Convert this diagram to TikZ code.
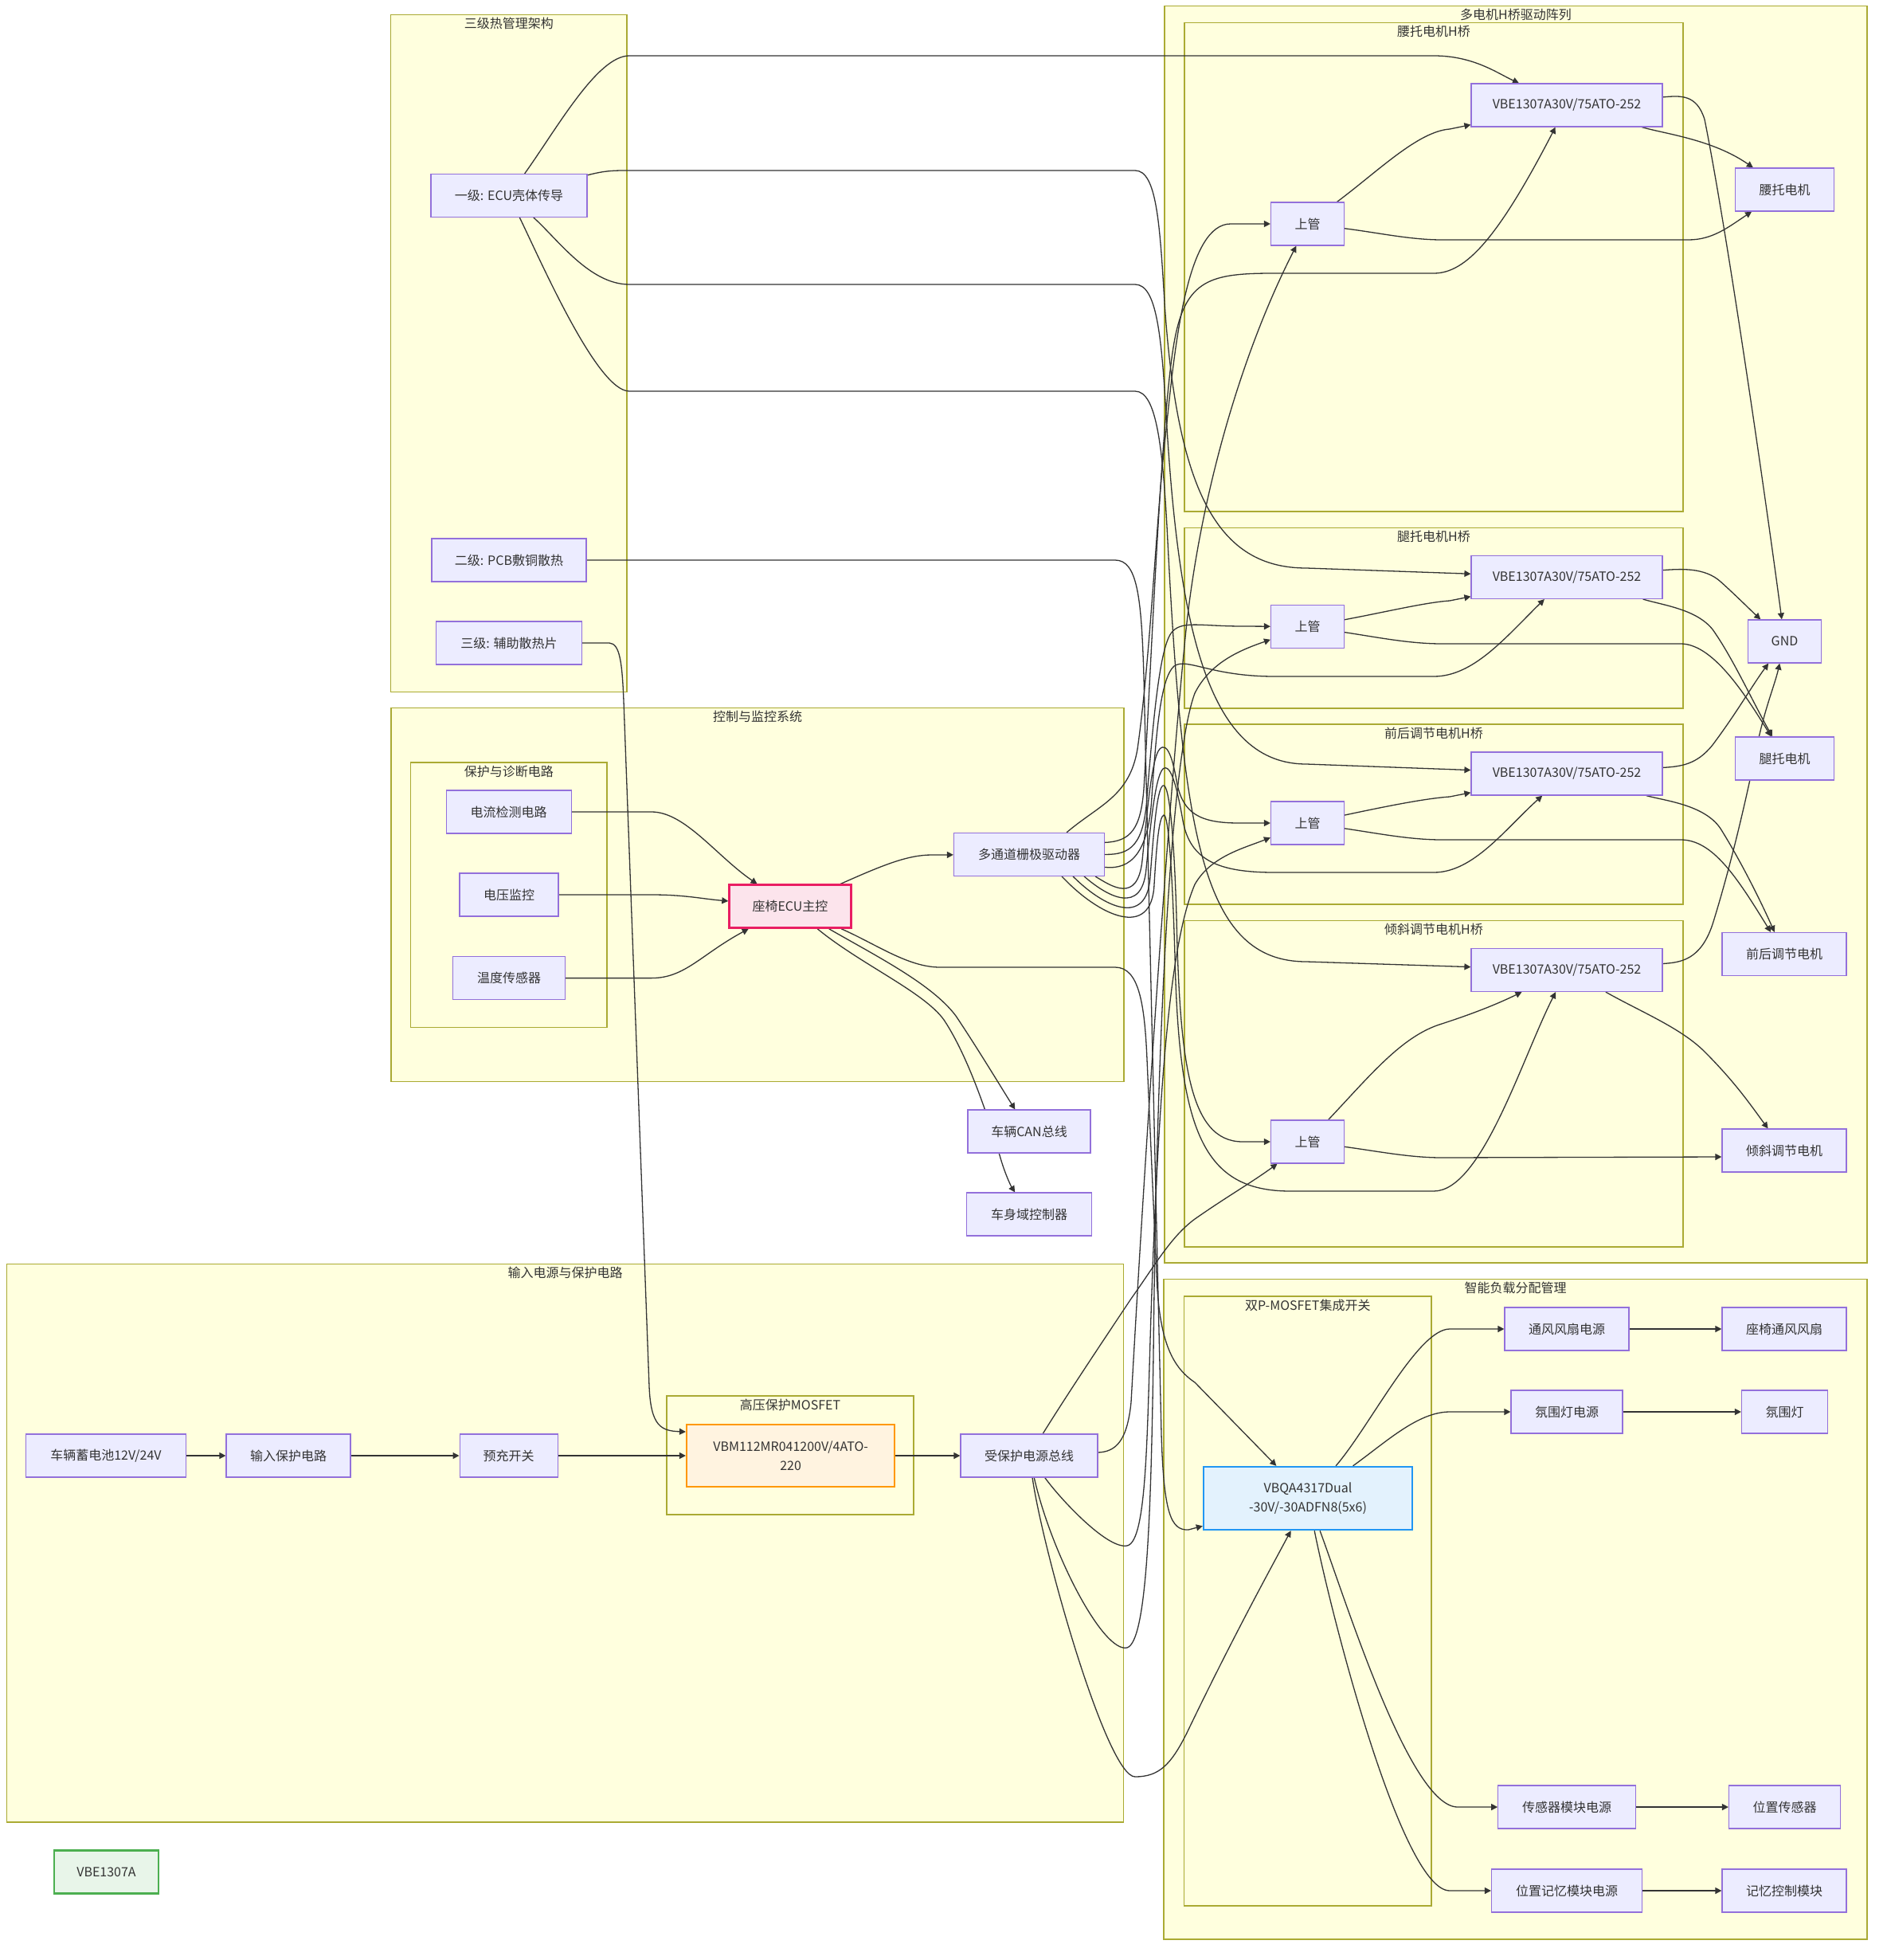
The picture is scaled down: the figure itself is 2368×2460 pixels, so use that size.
\documentclass[tikz,border=0pt]{standalone}
\usepackage{fontspec}
\setmainfont{Noto Sans CJK SC}
\usetikzlibrary{arrows.meta}

\definecolor{nodefill}{HTML}{ECECFF}
\definecolor{nodeline}{HTML}{9370DB}
\definecolor{grpfill}{HTML}{FFFFDE}
\definecolor{grpline}{HTML}{AAAA33}
\definecolor{ink}{HTML}{333333}
\definecolor{ecufill}{HTML}{FCE4EC}
\definecolor{eculine}{HTML}{E91E63}
\definecolor{hvfill}{HTML}{FFF3E0}
\definecolor{hvline}{HTML}{FF9800}
\definecolor{swfill}{HTML}{E3F2FD}
\definecolor{swline}{HTML}{2196F3}
\definecolor{keyfill}{HTML}{E8F5E9}
\definecolor{keyline}{HTML}{4CAF50}

\pgfdeclarelayer{groups}
\pgfdeclarelayer{wires}
\pgfsetlayers{groups,wires,main}

\begin{document}
\begin{tikzpicture}[x=0.5pt,y=-0.5pt]
        % Define the styles for blocks, groups and wires
        \tikzstyle{blk}=[rectangle, draw=nodeline, fill=nodefill, line width=0.6pt, minimum height=27pt, inner sep=0pt, text=ink, font=\fontsize{8}{12}\selectfont, align=center]
        \tikzstyle{ecublk}=[blk, draw=eculine, fill=ecufill, line width=1.2pt]
        \tikzstyle{hvblk}=[blk, draw=hvline, fill=hvfill, line width=1.2pt, minimum height=39.25pt]
        \tikzstyle{swblk}=[blk, draw=swline, fill=swfill, line width=1.2pt, minimum height=39.5pt]
        \tikzstyle{keyblk}=[blk, draw=keyline, fill=keyfill, line width=1.2pt]
        \tikzstyle{grp}=[draw=grpline, fill=grpfill, line width=0.6pt]
        \tikzstyle{grptitle}=[anchor=north, inner sep=0pt, text=ink, font=\fontsize{8}{10}\selectfont]
        \tikzstyle{link}=[draw=ink, line width=0.65pt, -{Triangle[length=4pt,width=4pt]}]

        \useasboundingbox (0,0) rectangle (2368,2460);

        % Define the groups
        \begin{pgfonlayer}{groups}
        \draw[grp] (490.5,18.5) rectangle (787,868.7);
        \draw[grp] (491,888.7) rectangle (1411,1357.5);
        \draw[grp] (515.7,957) rectangle (762,1289.5);
        \draw[grp] (1462,7.5) rectangle (2344,1585);
        \draw[grp] (1487,28.7) rectangle (2113,642);
        \draw[grp] (1487,662.5) rectangle (2113,889);
        \draw[grp] (1487,909) rectangle (2113,1135);
        \draw[grp] (1487,1155.6) rectangle (2113,1565);
        \draw[grp] (8.4,1586.7) rectangle (1410.6,2287);
        \draw[grp] (837,1752) rectangle (1147,1901);
        \draw[grp] (1461,1605.5) rectangle (2344,2434);
        \draw[grp] (1486.6,1627) rectangle (1797,2392);
        \end{pgfonlayer}

        \node[grptitle] (tthermal) at (638.75,22) {三级热管理架构};
        \node[grptitle] (tctrl) at (951,892) {控制与监控系统};
        \node[grptitle] (tdiag) at (638.85,960.5) {保护与诊断电路};
        \node[grptitle] (tbridge) at (1903,11) {多电机H桥驱动阵列};
        \node[grptitle] (tbridgeA) at (1800,32) {腰托电机H桥};
        \node[grptitle] (tbridgeB) at (1800,666) {腿托电机H桥};
        \node[grptitle] (tbridgeC) at (1800,912.5) {前后调节电机H桥};
        \node[grptitle] (tbridgeD) at (1800,1159) {倾斜调节电机H桥};
        \node[grptitle] (tinput) at (709.5,1590) {输入电源与保护电路};
        \node[grptitle] (thv) at (992,1755.5) {高压保护MOSFET};
        \node[grptitle] (tload) at (1902.5,1609) {智能负载分配管理};
        \node[grptitle] (tdual) at (1641.8,1630.5) {双P-MOSFET集成开关};

        % Define the nodes
        \node[blk, minimum width=98pt] (yiji) at (639,245.5) {一级: ECU壳体传导};
        \node[blk, minimum width=97pt] (erji) at (639,703) {二级: PCB敷铜散热};
        \node[blk, minimum width=91.5pt] (sanji) at (639,807) {三级: 辅助散热片};

        \node[blk, minimum width=78.5pt] (cur) at (638.6,1019) {电流检测电路};
        \node[blk, minimum width=62pt] (vol) at (639,1123) {电压监控};
        \node[blk, minimum width=70.5pt] (temp) at (639,1227.6) {温度传感器};
        \node[ecublk, minimum width=76.5pt] (ecu) at (992,1137.6) {座椅ECU主控};
        \node[blk, minimum width=94.5pt] (drv) at (1292,1072.4) {多通道栅极驱动器};
        \node[blk, minimum width=77pt] (can) at (1292,1420) {车辆CAN总线};
        \node[blk, minimum width=78.5pt] (bcm) at (1292,1524) {车身域控制器};

        \node[blk, minimum width=120pt] (vbeA) at (1967,132) {VBE1307A30V/75ATO-252};
        \node[blk, minimum width=120pt] (vbeB) at (1967,724.5) {VBE1307A30V/75ATO-252};
        \node[blk, minimum width=120pt] (vbeC) at (1967,971) {VBE1307A30V/75ATO-252};
        \node[blk, minimum width=120pt] (vbeD) at (1967,1217.5) {VBE1307A30V/75ATO-252};
        \node[blk, minimum width=46pt] (upA) at (1641.5,281) {上管};
        \node[blk, minimum width=46pt] (upB) at (1641.5,786.5) {上管};
        \node[blk, minimum width=46pt] (upC) at (1641.5,1033) {上管};
        \node[blk, minimum width=46pt] (upD) at (1641.5,1433) {上管};
        \node[blk, minimum width=62pt] (motA) at (2240.5,238) {腰托电机};
        \node[blk, minimum width=45.75pt] (gnd) at (2240.5,805) {GND};
        \node[blk, minimum width=62pt] (motB) at (2240.5,952) {腿托电机};
        \node[blk, minimum width=78pt] (motC) at (2240,1197.5) {前后调节电机};
        \node[blk, minimum width=78pt] (motD) at (2240,1444) {倾斜调节电机};

        \node[blk, minimum width=100.5pt] (bat) at (133,1827) {车辆蓄电池12V/24V};
        \node[blk, minimum width=78pt] (inprot) at (362,1827) {输入保护电路};
        \node[blk, minimum width=61.5pt] (prech) at (638.6,1827) {预充开关};
        \node[hvblk, minimum width=130.5pt] (vbm) at (992.6,1827) {VBM112MR041200V/4ATO-\\220};
        \node[blk, minimum width=86pt] (bus) at (1292,1827) {受保护电源总线};
        \node[keyblk, minimum width=65.5pt] (legend) at (133.5,2349.5) {VBE1307A};

        \node[swblk, minimum width=131pt] (vbqa) at (1642,1880.5) {VBQA4317Dual\\-30V/-30ADFN8(5x6)};
        \node[blk, minimum width=78pt] (fanpwr) at (1967,1668) {通风风扇电源};
        \node[blk, minimum width=78pt] (fan) at (2240,1668) {座椅通风风扇};
        \node[blk, minimum width=70pt] (ambpwr) at (1967,1772) {氛围灯电源};
        \node[blk, minimum width=54pt] (amb) at (2240.5,1772) {氛围灯};
        \node[blk, minimum width=86.25pt] (senpwr) at (1967,2268) {传感器模块电源};
        \node[blk, minimum width=70pt] (sen) at (2240.5,2268) {位置传感器};
        \node[blk, minimum width=94.5pt] (mempwr) at (1967,2373) {位置记忆模块电源};
        \node[blk, minimum width=78pt] (mem) at (2240,2373) {记忆控制模块};

        \begin{pgfonlayer}{wires}
        % Define the power input chain
        \draw[link] (bat) -- (inprot);
        \draw[link] (inprot) -- (prech);
        \draw[link] (prech) -- (vbm);
        \draw[link] (vbm) -- (bus);
        \draw[link] (sanji) -- (765,807) .. controls (778,808) and (781,830) .. (783,880) -- (815,1740) .. controls (817,1790) and (830,1796) .. ([yshift=15pt]vbm.west);

        % Define the thermal paths
        \draw[link] (yiji) .. controls (700,160) and (750,70) .. (790,70) -- (1800,70) .. controls (1850,70) and (1880,92) .. (vbeA);
        \draw[link] (yiji) .. controls (760,214) and (770,214) .. (790,214) -- (1425,214) .. controls (1452,214) and (1456,280) .. (1462,380) .. controls (1478,620) and (1530,713) .. (1640,713) -- (vbeB);
        \draw[link] (yiji) .. controls (700,300) and (740,357) .. (790,357) -- (1425,357) .. controls (1452,357) and (1458,420) .. (1464,520) .. controls (1480,800) and (1520,959) .. (1640,959) -- (vbeC);
        \draw[link] (yiji) .. controls (680,330) and (750,491) .. (790,491) -- (1425,491) .. controls (1452,491) and (1460,560) .. (1466,680) .. controls (1485,1050) and (1510,1207) .. (1640,1207) -- (vbeD);
        \draw[link] (erji) -- (1400,703) .. controls (1428,703) and (1433,750) .. (1436,850) -- (1458,1800) .. controls (1461,1900) and (1470,1921) .. (1492,1920) -- (vbqa);

        % Define the control paths
        \draw[link] (cur) -- (818,1019) .. controls (860,1019) and (900,1075) .. (ecu);
        \draw[link] (vol) -- (818,1123) .. controls (860,1123) and (880,1128) .. (ecu);
        \draw[link] (temp) -- (818,1227.6) .. controls (860,1227.6) and (880,1198) .. (ecu);
        \draw[link] (ecu) .. controls (1110,1085) and (1140,1073) .. (1170,1073) -- (drv);
        \draw[link] (ecu) .. controls (1100,1200) and (1170,1235) .. (1200,1275) .. controls (1230,1320) and (1260,1370) .. (can);
        \draw[link] (ecu) .. controls (1080,1210) and (1160,1245) .. (1185,1280) .. controls (1215,1325) and (1240,1400) .. (1255,1450) .. controls (1262,1475) and (1270,1490) .. (bcm);
        \draw[link] (ecu) .. controls (1100,1185) and (1140,1214) .. (1180,1214) -- (1400,1214) .. controls (1430,1214) and (1437,1260) .. (1440,1330) -- (1452,1600) .. controls (1455,1680) and (1470,1715) .. (1500,1735) -- (vbqa);

        % Define the gate driver paths
        \draw[link] ([xshift=-24pt]drv.north east) .. controls (1380,1010) and (1418,1000) .. (1428,940) .. controls (1445,820) and (1452,640) .. (1464,540) .. controls (1476,420) and (1492,281) .. (1545,281) -- (upA);
        \draw[link] ([yshift=7.5pt]drv.east) .. controls (1420,1056) and (1432,1040) .. (1436,990) .. controls (1446,820) and (1458,520) .. (1474,430) .. controls (1488,350) and (1520,343) .. (1600,343) -- (1800,343) .. controls (1840,343) and (1880,300) .. (vbeA);
        \draw[link] (drv.east) .. controls (1420,1073) and (1436,1060) .. (1440,1000) .. controls (1448,900) and (1456,815) .. (1470,795) .. controls (1482,778) and (1505,786) .. (1560,786) -- (upB);
        \draw[link] ([yshift=-8pt]drv.east) .. controls (1420,1092) and (1442,1070) .. (1446,1000) .. controls (1452,910) and (1458,850) .. (1474,836) .. controls (1490,825) and (1520,849) .. (1600,849) -- (1800,849) .. controls (1850,849) and (1890,800) .. (vbeB);
        \draw[link] ([xshift=-6pt]drv.south east) .. controls (1395,1112) and (1428,1135) .. (1434,1080) .. controls (1440,1020) and (1446,950) .. (1456,940) .. controls (1466,930) and (1473,955) .. (1478,985) .. controls (1486,1020) and (1505,1033) .. (1555,1033) -- (upC);
        \draw[link] ([xshift=-13pt]drv.south east) .. controls (1390,1125) and (1434,1150) .. (1439,1090) .. controls (1444,1040) and (1450,975) .. (1460,965) .. controls (1470,957) and (1478,990) .. (1485,1030) .. controls (1494,1080) and (1530,1095) .. (1600,1095) -- (1800,1095) .. controls (1850,1095) and (1890,1040) .. (vbeC);
        \draw[link] ([xshift=-20pt]drv.south east) .. controls (1385,1138) and (1440,1165) .. (1444,1100) .. controls (1448,1050) and (1452,990) .. (1460,986) .. controls (1468,982) and (1474,1050) .. (1477,1150) .. controls (1481,1330) and (1492,1433) .. (1560,1433) -- (upD);
        \draw[link] ([xshift=-27pt]drv.south east) .. controls (1380,1150) and (1446,1180) .. (1449,1110) .. controls (1452,1060) and (1455,1025) .. (1461,1023) .. controls (1467,1021) and (1472,1100) .. (1475,1200) .. controls (1480,1420) and (1510,1495) .. (1620,1495) -- (1800,1495) .. controls (1860,1495) and (1910,1330) .. (vbeD);

        % Define the protected bus paths
        \draw[link] (bus) .. controls (1340,1750) and (1380,1690) .. (1420,1630) .. controls (1450,1588) and (1470,1552) .. (1500,1530) .. controls (1540,1502) and (1570,1485) .. (upD);
        \draw[link] (bus) .. controls (1400,1822) and (1415,1810) .. (1420,1760) .. controls (1440,1400) and (1468,1000) .. (1488,800) .. controls (1506,620) and (1560,440) .. (upA);
        \draw[link] (bus) .. controls (1330,1880) and (1390,1945) .. (1415,1940) .. controls (1440,1935) and (1440,1800) .. (1445,1650) .. controls (1455,1350) and (1470,1180) .. (1500,1110) .. controls (1520,1075) and (1560,1065) .. (upC);
        \draw[link] (bus) .. controls (1320,1950) and (1385,2075) .. (1415,2068) .. controls (1440,2060) and (1445,1900) .. (1448,1700) .. controls (1452,1300) and (1470,950) .. (1500,870) .. controls (1520,830) and (1560,815) .. (upB);
        \draw[link] (bus) .. controls (1310,1950) and (1390,2230) .. (1425,2230) .. controls (1455,2230) and (1470,2215) .. (1490,2175) .. controls (1550,2050) and (1600,1960) .. (vbqa);

        % Define the H-bridge paths
        \draw[link] (upA) .. controls (1730,215) and (1780,165) .. (1820,162) -- (vbeA);
        \draw[link] (upB) .. controls (1740,768) and (1790,756) .. (1820,754) -- (vbeB);
        \draw[link] (upC) .. controls (1740,1012) and (1790,1002) .. (1820,1000) -- (vbeC);
        \draw[link] (upD) .. controls (1720,1350) and (1760,1300) .. (1810,1285) .. controls (1850,1272) and (1880,1260) .. (vbeD);
        \draw[link] (upA) .. controls (1730,292) and (1770,301) .. (1810,301) -- (2120,301) .. controls (2150,301) and (2170,285) .. (motA);
        \draw[link] (upB) .. controls (1730,800) and (1770,808) .. (1810,808) -- (2110,808) .. controls (2150,808) and (2190,870) .. (motB);
        \draw[link] (upC) .. controls (1730,1046) and (1770,1054) .. (1810,1054) -- (2110,1054) .. controls (2150,1054) and (2180,1100) .. (motC);
        \draw[link] (upD) .. controls (1730,1445) and (1770,1453) .. (1810,1453) -- ([yshift=-4pt]motD.west);
        \draw[link] (vbeA) .. controls (2090,168) and (2150,175) .. (motA);
        \draw[link] (vbeB) .. controls (2090,760) and (2130,765) .. (2150,790) .. controls (2175,825) and (2200,880) .. (motB);
        \draw[link] (vbeC) .. controls (2090,1005) and (2140,1010) .. (2160,1040) .. controls (2185,1080) and (2210,1130) .. (motC);
        \draw[link] (vbeD) .. controls (2060,1270) and (2110,1290) .. (2140,1320) .. controls (2180,1360) and (2200,1390) .. (motD);
        \draw[link] (vbeA) .. controls (2110,120) and (2130,118) .. (2140,150) .. controls (2170,300) and (2220,650) .. (gnd);
        \draw[link] (vbeB) .. controls (2110,714) and (2140,712) .. (2160,730) .. controls (2180,748) and (2200,768) .. (gnd);
        \draw[link] (vbeC) .. controls (2110,962) and (2130,960) .. (2150,935) .. controls (2180,895) and (2200,860) .. (gnd);
        \draw[link] (vbeD) .. controls (2110,1208) and (2135,1205) .. (2150,1160) .. controls (2175,1080) and (2195,990) .. (2205,940) .. controls (2215,890) and (2228,860) .. (gnd);

        % Define the load switch paths
        \draw[link] (vbqa) .. controls (1720,1790) and (1780,1668) .. (1820,1668) -- (fanpwr);
        \draw[link] (vbqa) .. controls (1740,1810) and (1780,1772) .. (1820,1772) -- (ambpwr);
        \draw[link] (vbqa) .. controls (1690,2010) and (1770,2268) .. (1830,2268) -- (senpwr);
        \draw[link] (vbqa) .. controls (1672,2030) and (1760,2373) .. (1820,2373) -- (mempwr);
        \draw[link] (fanpwr) -- (fan);
        \draw[link] (ambpwr) -- (amb);
        \draw[link] (senpwr) -- (sen);
        \draw[link] (mempwr) -- (mem);
        \end{pgfonlayer}
    \end{tikzpicture}
\end{document}
